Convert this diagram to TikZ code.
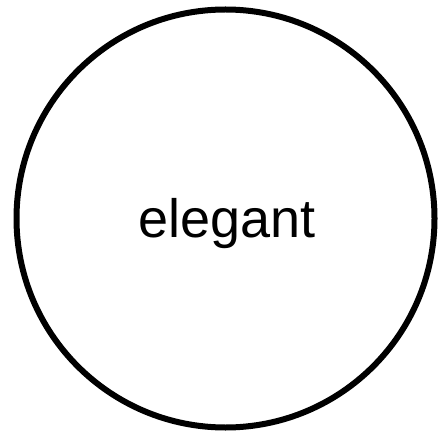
\documentclass[tikz,border=0pt]{standalone}
\usepackage{fontspec}
\setmainfont{Liberation Sans}
\begin{document}
\begin{tikzpicture}[x=1pt,y=1pt,
  ring/.style={draw=black,line width=6pt,fill=white,circle,minimum size=418pt,inner sep=0pt},
  word/.style={font=\fontsize{54}{60}\selectfont,inner sep=0pt}]
\useasboundingbox (0,0) rectangle (438,434);
\node[ring] (c) at (225.5,215.5) {};
\node[word,anchor=base] (t) at (227,197) {elegant};
\end{tikzpicture}
\end{document}
